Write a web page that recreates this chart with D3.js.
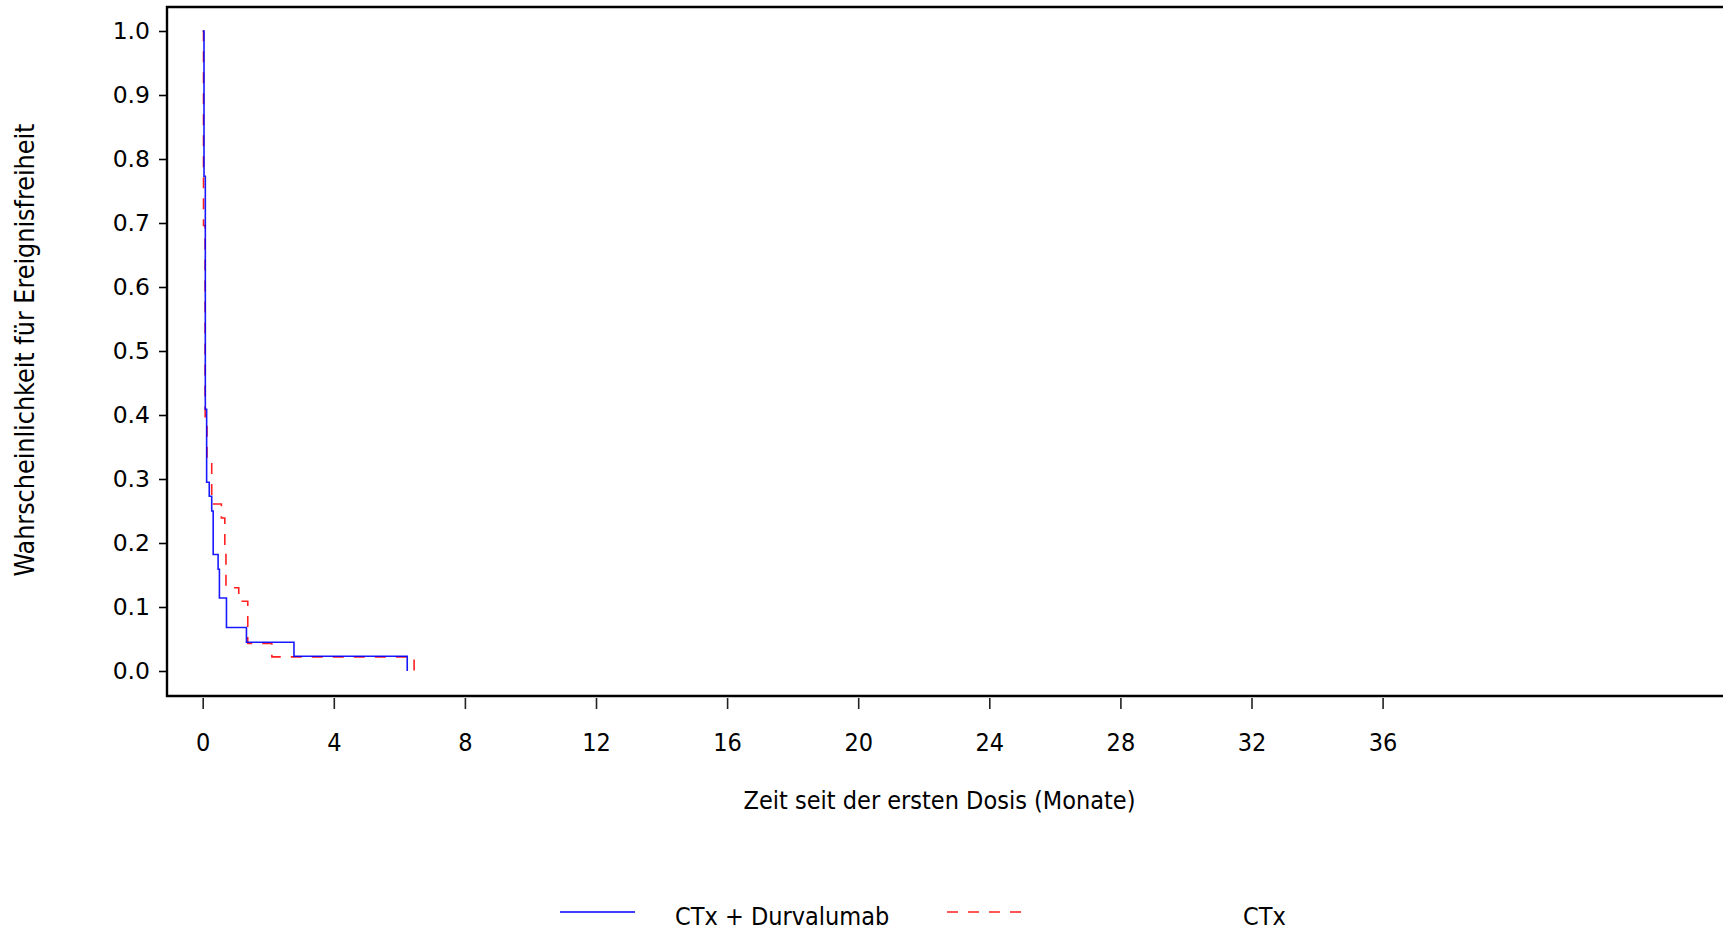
<!DOCTYPE html>
<html>
<head>
<meta charset="utf-8">
<script src="https://cdn.jsdelivr.net/npm/d3@7"></script>
<style>
  body { margin: 0; background: #fff; }
  svg { display: block; }
</style>
</head>
<body>
<svg id="chart" width="1723" height="932"></svg>
<script>
// Kaplan-Meier step data (months, survival probability)
const seriesNames = ["CTx + Durvalumab", "CTx"];
const durvaTimes = [0, 0.04, 0.08, 0.12, 0.20, 0.275, 0.32, 0.47, 0.51, 0.725, 1.335, 2.785, 6.24];
const durvaSurv  = [1.0, 0.773, 0.409, 0.295, 0.273, 0.250, 0.182, 0.159, 0.114, 0.068, 0.045, 0.023, 0.0];
const ctxTimes   = [0, 0.025, 0.075, 0.13, 0.275, 0.57, 0.675, 0.71, 1.10, 1.375, 2.11, 6.45];
const ctxSurv    = [1.0, 0.696, 0.391, 0.326, 0.261, 0.239, 0.196, 0.130, 0.109, 0.043, 0.022, 0.0];
const xTicks = [0, 4, 8, 12, 16, 20, 24, 28, 32, 36];
const yTicks = [0, 0.1, 0.2, 0.3, 0.4, 0.5, 0.6, 0.7, 0.8, 0.9, 1.0];
const xTitle = "Zeit seit der ersten Dosis (Monate)";
const yTitle = "Wahrscheinlichkeit für Ereignisfreiheit";

const svg = d3.select("#chart");
const W = 1723;
const frame = { left: 167, top: 7, bottom: 696 };

const x = d3.scaleLinear().domain([0, 36]).range([202.7, 1382.6]);
const y = d3.scaleLinear().domain([0, 1]).range([671, 31]);

const condensed = "'DejaVu Sans Condensed', 'Liberation Sans Narrow', 'DejaVu Sans', sans-serif";
const wide = "'DejaVu Sans', Verdana, sans-serif";

// curves
const line = d3.line()
  .x(d => x(d[0]))
  .y(d => y(d[1]))
  .curve(d3.curveStepAfter);

const ctxData = ctxTimes.map((t, i) => [t, ctxSurv[i]]);
const durvaData = durvaTimes.map((t, i) => [t, durvaSurv[i]]);

svg.append("path")
  .datum(ctxData)
  .attr("d", line)
  .attr("fill", "none")
  .attr("stroke", "#ff2020")
  .attr("stroke-width", 1.6)
  .attr("stroke-dasharray", "11,10");

svg.append("path")
  .datum(durvaData)
  .attr("d", line)
  .attr("fill", "none")
  .attr("stroke", "#0000ff")
  .attr("stroke-width", 1.6)
  .attr("stroke-opacity", 0.9);

// frame (open to the right edge)
svg.append("path")
  .attr("d", `M${W + 10},${frame.top}H${frame.left}V${frame.bottom}H${W + 10}`)
  .attr("fill", "none")
  .attr("stroke", "#000")
  .attr("stroke-width", 2.4);

// y axis
const yAxis = svg.append("g")
  .attr("transform", `translate(${frame.left - 1},0)`)
  .call(d3.axisLeft(y).tickValues(yTicks).tickSize(7).tickPadding(9).tickFormat(d3.format(".1f")));
yAxis.select(".domain").remove();
yAxis.selectAll(".tick line").attr("stroke", "#000").attr("stroke-width", 1.6);
yAxis.selectAll(".tick text")
  .attr("font-family", wide)
  .attr("font-size", 23.5)
  .attr("fill", "#000");

// x axis
const xAxis = svg.append("g")
  .attr("transform", `translate(0,${frame.bottom + 2})`)
  .call(d3.axisBottom(x).tickValues(xTicks).tickSize(11));
xAxis.select(".domain").remove();
xAxis.selectAll(".tick line").attr("stroke", "#222").attr("stroke-width", 1.6);
xAxis.selectAll(".tick text")
  .attr("y", 53)
  .attr("dy", 0)
  .attr("font-family", condensed)
  .attr("font-size", 25)
  .attr("fill", "#000");

// axis titles
svg.append("text")
  .attr("x", 939.5)
  .attr("y", 809)
  .attr("text-anchor", "middle")
  .attr("font-family", condensed)
  .attr("font-size", 25)
  .attr("fill", "#000")
  .text(xTitle);

svg.append("text")
  .attr("transform", "translate(34,350) rotate(-90)")
  .attr("text-anchor", "middle")
  .attr("font-family", condensed)
  .attr("font-size", 26.6)
  .attr("fill", "#000")
  .text(yTitle);

// legend
const legend = svg.append("g");
const legendItems = [
  { name: seriesNames[0], color: "#0000ff", dash: null, x1: 560, x2: 635, tx: 675 },
  { name: seriesNames[1], color: "#ff2020", dash: "11,10", x1: 947, x2: 1022, tx: 1243 }
];
legendItems.forEach(it => {
  legend.append("line")
    .attr("x1", it.x1).attr("x2", it.x2)
    .attr("y1", 912).attr("y2", 912)
    .attr("stroke", it.color)
    .attr("stroke-width", 1.6)
    .attr("stroke-dasharray", it.dash);
  legend.append("text")
    .attr("x", it.tx)
    .attr("y", 925)
    .attr("font-family", condensed)
    .attr("font-size", 25)
    .attr("fill", "#000")
    .text(it.name);
});
</script>
</body>
</html>
